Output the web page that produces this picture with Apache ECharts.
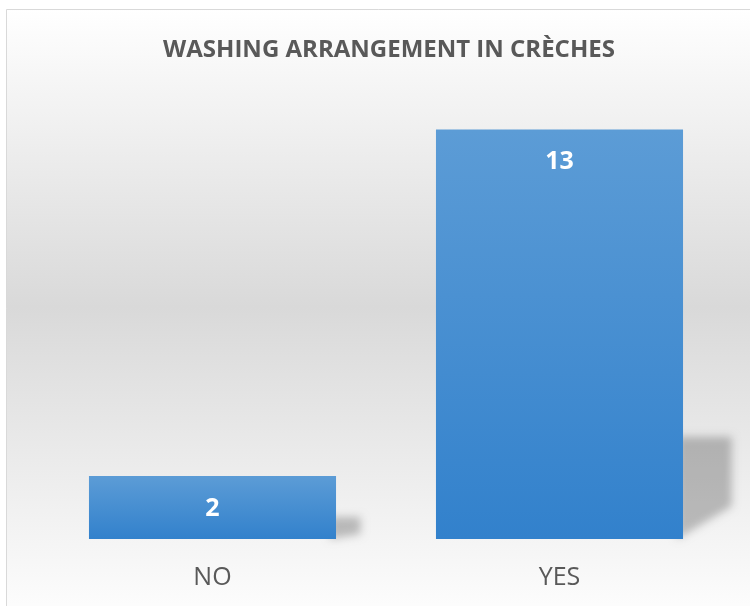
<!DOCTYPE html>
<html>
<head>
<meta charset="utf-8">
<script src="https://cdn.jsdelivr.net/npm/echarts@6/dist/echarts.min.js"></script>
<style>
  html, body { margin: 0; padding: 0; background: #fff; }
  #chart { width: 750px; height: 606px; }
</style>
</head>
<body>
<div id="chart"></div>
<script>
const categories = ["NO", "YES"];
const counts = [2, 13];
const titleText = "WASHING ARRANGEMENT IN CRÈCHES";

const chart = echarts.init(document.getElementById("chart"));

// soft perspective shadow to the right of each bar (like Excel).
// the shape is drawn off canvas, only its blurred shadow lands next to the bar
const OFF = 2000;
function renderShadow(params, api) {
  const base = api.coord([api.value(0), 0]);
  const top = api.coord([api.value(0), api.value(1)]);
  const size = api.size([1, 0]);
  const right = base[0] + size[0] * 0.356 - 6;
  const h = base[1] - top[1];
  const dx = 26 + 0.07 * h;
  const sh = Math.max(22, 0.25 * h);
  return {
    type: "polygon",
    shape: {
      points: [
        [right - OFF, base[1]],
        [right + dx - OFF, base[1] - 0.08 * h],
        [right + dx - OFF, base[1] - sh],
        [right - OFF, base[1] - sh]
      ]
    },
    style: {
      fill: "#000",
      shadowBlur: 9,
      shadowOffsetX: OFF,
      shadowColor: "rgba(0,0,0,0.24)"
    }
  };
}

const option = {
  backgroundColor: "#fff",
  animation: false,
  graphic: [{
    type: "rect",
    shape: { x: 6.5, y: 9.5, width: 800, height: 620 },
    style: {
      stroke: "#d9d9d9",
      lineWidth: 1,
      fill: new echarts.graphic.LinearGradient(0, 0, 0, 1, [
        { offset: 0, color: "#ffffff" },
        { offset: 0.48, color: "#d9d9d9" },
        { offset: 1, color: "#ffffff" }
      ])
    },
    z: -10,
    silent: true
  }],
  title: {
    text: titleText,
    left: 384,
    textAlign: "center",
    top: 33,
    textStyle: {
      fontFamily: "Open Sans",
      fontWeight: "bold",
      fontSize: 24,
      color: "#595959"
    }
  },
  grid: { left: 39, right: 17, top: 98, bottom: 67 },
  xAxis: {
    type: "category",
    data: categories,
    axisLine: { show: false },
    axisTick: { show: false },
    axisLabel: {
      margin: 26,
      fontFamily: "Open Sans",
      fontSize: 25,
      color: "#595959"
    }
  },
  yAxis: {
    type: "value",
    min: 0,
    max: 14,
    show: false,
    splitLine: { show: false }
  },
  series: [
    {
      type: "custom",
      renderItem: renderShadow,
      data: categories.map((c, i) => [i, counts[i]]),
      clip: false,
      silent: true,
      z: 1
    },
    {
      type: "bar",
      data: counts,
      barCategoryGap: "28.8%",
      z: 2,
      itemStyle: {
        color: new echarts.graphic.LinearGradient(0, 0, 0, 1, [
          { offset: 0, color: "#5c9cd6" },
          { offset: 1, color: "#3281cc" }
        ])
      },
      label: {
        show: true,
        position: "insideTop",
        distance: 20,
        fontFamily: "Open Sans",
        fontWeight: "bold",
        fontSize: 25,
        color: "#ffffff"
      }
    }
  ]
};

chart.setOption(option);
</script>
</body>
</html>
